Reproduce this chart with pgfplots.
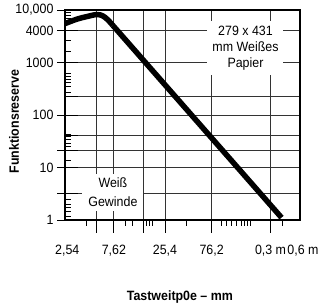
\documentclass[border=0pt]{standalone}
\usepackage{pgfplots}
\pgfplotsset{compat=1.18}
\usepackage{fontspec}
\setmainfont{Liberation Sans}[FakeStretch=0.92]

\begin{document}
\begin{tikzpicture}[font=\fontsize{13.5}{16}\selectfont]
\useasboundingbox (-65pt,-87pt) rectangle (257pt,220pt);
\begin{axis}[
  at={(0,0)}, anchor=south west,
  scale only axis, width=235pt, height=210pt,
  xmode=log, ymode=log,
  xmin=2.41, xmax=609.6, ymin=1, ymax=10000,
  tick pos=left,
  xtick align=outside, ytick align=inside,
  major tick length=13pt, minor tick length=6pt,
  axis line style={line width=1.1pt},
  tick style={black, line width=0.9pt},
  xtick={5.08,7.62,15.24,25.4,76.2,304.8},
  xticklabels={{},{7,62},{},{25,4},{76,2},{0,3 m}},
  extra x ticks={2.54,609.6},
  extra x tick labels={{2,54},{\hspace*{6pt}0,6 m}},
  extra x tick style={grid=none, tick style={draw=none}},
  minor xtick={4.0,9.9,11.9,16.5,17.8,19.1,42.4,95.7,107,120,135,152,163,175,191,404},
  ytick={1,10,100,1000,4000,10000},
  yticklabels={1,10,100,1000,4000,{10,000}},
  extra y ticks={3.2,21,40,221},
  extra y tick labels={},
  extra y tick style={grid=major},
  minor ytick={8870,7870,6980,6190,5490,2660,1630,631,533,471,415,351,273,43.3,38.2,33.7,28.5,25.1,13.4,2.48,2.0,1.70,1.46,1.17},
  grid=major,
  major grid style={black!80, line width=0.9pt},
  xticklabel style={yshift=-9pt},
  yticklabel style={xshift=-8pt},
  xlabel={\bfseries Tastweitp0e -- mm},
  ylabel={\bfseries Funktionsreserve},
  xlabel style={at={(axis description cs:0.489,0)}, anchor=center, yshift=-77pt},
  ylabel style={at={(axis description cs:-0.217,0.469)}, anchor=center},
]
\addplot[black, line width=5.5pt, smooth, tension=0.6] coordinates {
  (2.41,5503) (3.195,6700) (4.04,7500) (5.11,8196) (5.88,7700)
  (6.6,6500) (7.44,5080)
};
\addplot[black, line width=5.5pt, line join=round] coordinates {
  (7.44,5080) (10.34,2527) (394.8,1.11)
};
\node[fill=white, inner xsep=5pt, inner ysep=5pt, align=center]
  at (axis description cs:0.768,0.819) {279 x 431\\mm Weißes\\Papier};
\node[fill=white, inner xsep=6pt, inner ysep=4pt, align=center]
  at (axis description cs:0.204,0.131) {Weiß\\[3pt]Gewinde};
\end{axis}
\begin{axis}[
  at={(0,0)}, anchor=south west,
  scale only axis, width=235pt, height=210pt,
  xmode=log, ymode=log,
  xmin=2.41, xmax=609.6, ymin=1, ymax=10000,
  hide x axis,
  ytick pos=left, ytick align=outside,
  major tick length=8pt, minor tick length=0pt,
  axis line style={line width=1.1pt},
  tick style={black, line width=0.9pt},
  ytick={1,3.2,10,21,100,1000,4000,10000},
  yticklabels={,,,,,,,},
  minor ytick={1},
]
\end{axis}
\end{tikzpicture}
\end{document}
